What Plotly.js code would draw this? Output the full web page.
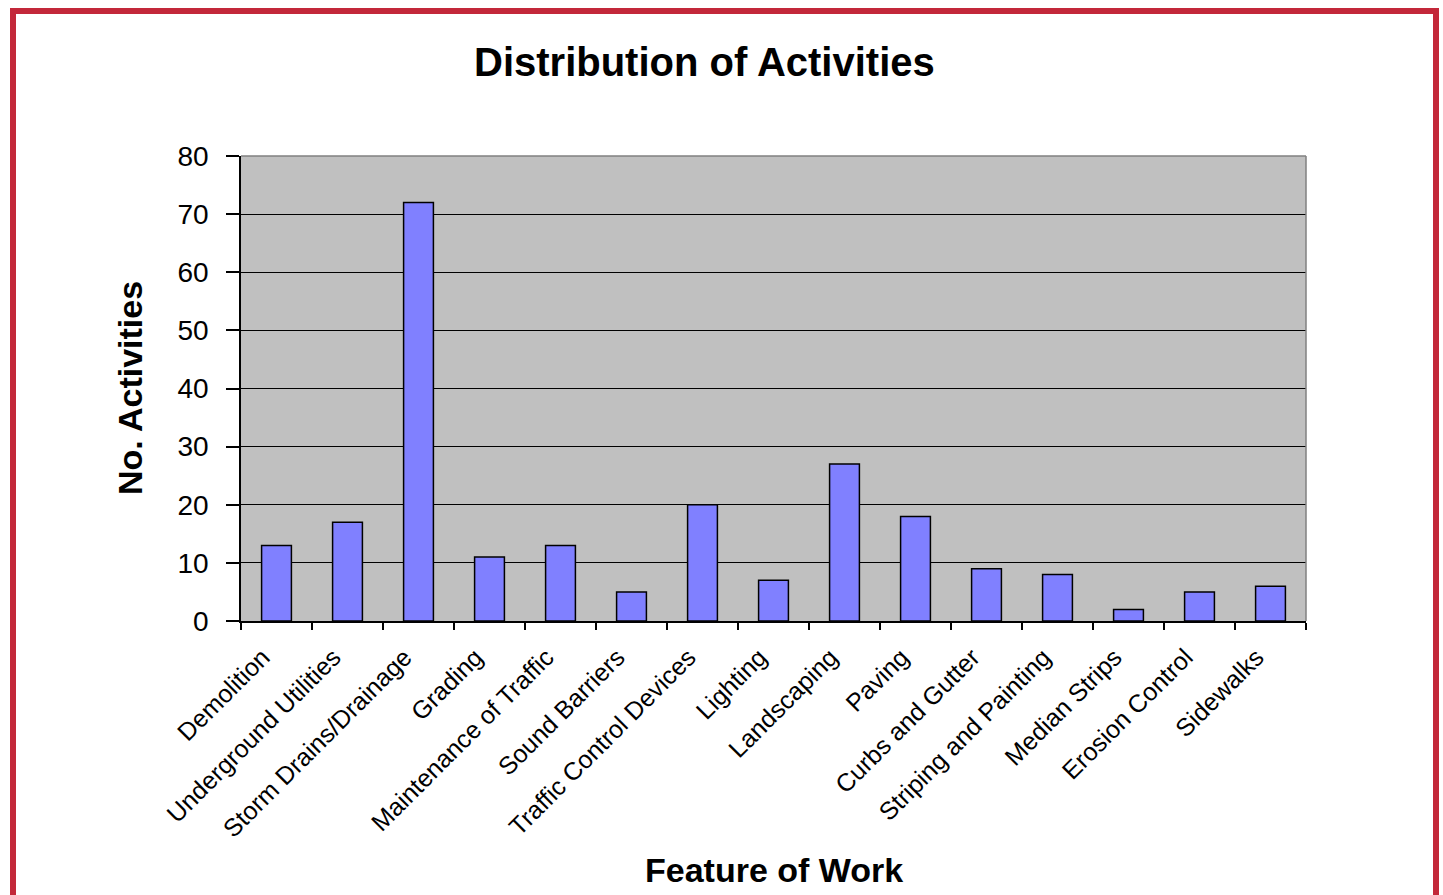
<!DOCTYPE html>
<html>
<head>
<meta charset="utf-8">
<script src="https://cdn.plot.ly/plotly-3.0.1.min.js"></script>
<style>
  html, body { margin: 0; padding: 0; background: #ffffff; }
  #frame { position: absolute; left: 10px; top: 8px; width: 1417px; height: 900px;
           border-top: 6px solid #C3283A; border-left: 6px solid #C3283A; border-right: 6px solid #C3283A; }
  #chart { position: absolute; left: 0; top: 0; width: 1443px; height: 895px; }
</style>
</head>
<body>
<div id="frame"></div>
<div id="chart"></div>
<script>
const categories = ["Demolition", "Underground Utilities", "Storm Drains/Drainage", "Grading",
  "Maintenance of Traffic", "Sound Barriers", "Traffic Control Devices", "Lighting",
  "Landscaping", "Paving", "Curbs and Gutter", "Striping and Painting", "Median Strips",
  "Erosion Control", "Sidewalks"];
const activities = [13, 17, 72, 11, 13, 5, 20, 7, 27, 18, 9, 8, 2, 5, 6];
const yTickValues = [0, 10, 20, 30, 40, 50, 60, 70, 80];

const FONT = "Arial, 'Liberation Sans', sans-serif";

const trace = {
  type: "bar",
  x: categories,
  y: activities,
  marker: { color: "#8080FF", line: { color: "#000000", width: 1.5 } },
  hoverinfo: "x+y"
};

const layout = {
  width: 1443,
  height: 895,
  paper_bgcolor: "rgba(0,0,0,0)",
  plot_bgcolor: "#C0C0C0",
  margin: { l: 241, r: 137, t: 156, b: 274 },
  bargap: 0.58,
  showlegend: false,
  font: { family: FONT, color: "#000000" },
  xaxis: {
    type: "category",
    tickson: "boundaries",
    ticks: "outside",
    ticklen: 7,
    tickcolor: "#000000",
    tickwidth: 1.5,
    tickangle: -45,
    ticklabelshift: -14,
    ticklabelstandoff: 10,
    tickfont: { family: FONT, size: 25, color: "#000000" },
    showline: true,
    linecolor: "#000000",
    linewidth: 1.5,
    showgrid: false,
    zeroline: false
  },
  yaxis: {
    range: [0, 80],
    tickvals: yTickValues,
    ticks: "outside",
    ticklen: 13,
    tickcolor: "#000000",
    tickwidth: 1.5,
    ticklabelstandoff: 12,
    tickfont: { family: FONT, size: 28, color: "#000000" },
    showline: true,
    linecolor: "#000000",
    linewidth: 1.5,
    showgrid: true,
    gridcolor: "#000000",
    gridwidth: 1.2,
    zeroline: false
  },
  shapes: [
    { type: "line", xref: "paper", yref: "paper", x0: 0, x1: 1, y0: 1, y1: 1,
      line: { color: "#808080", width: 1.5 } },
    { type: "line", xref: "paper", yref: "paper", x0: 1, x1: 1, y0: 0, y1: 1,
      line: { color: "#808080", width: 1.5 } }
  ],
  annotations: [
    { text: "<b>Distribution of Activities</b>", xref: "paper", yref: "paper",
      x: (704 - 241) / 1065, y: 1 + (156 - 62) / 465, xanchor: "center", yanchor: "middle",
      showarrow: false, font: { family: FONT, size: 40, color: "#000000" } },
    { text: "<b>No. Activities</b>", xref: "paper", yref: "paper",
      x: -(241 - 130) / 1065, y: (621 - 388) / 465, xanchor: "center", yanchor: "middle",
      textangle: -90, showarrow: false, font: { family: FONT, size: 34, color: "#000000" } },
    { text: "<b>Feature of Work</b>", xref: "paper", yref: "paper",
      x: (774 - 241) / 1065, y: -(870 - 621) / 465, xanchor: "center", yanchor: "middle",
      showarrow: false, font: { family: FONT, size: 34, color: "#000000" } }
  ]
};

Plotly.newPlot("chart", [trace], layout, { displayModeBar: false, staticPlot: false });
</script>
</body>
</html>
